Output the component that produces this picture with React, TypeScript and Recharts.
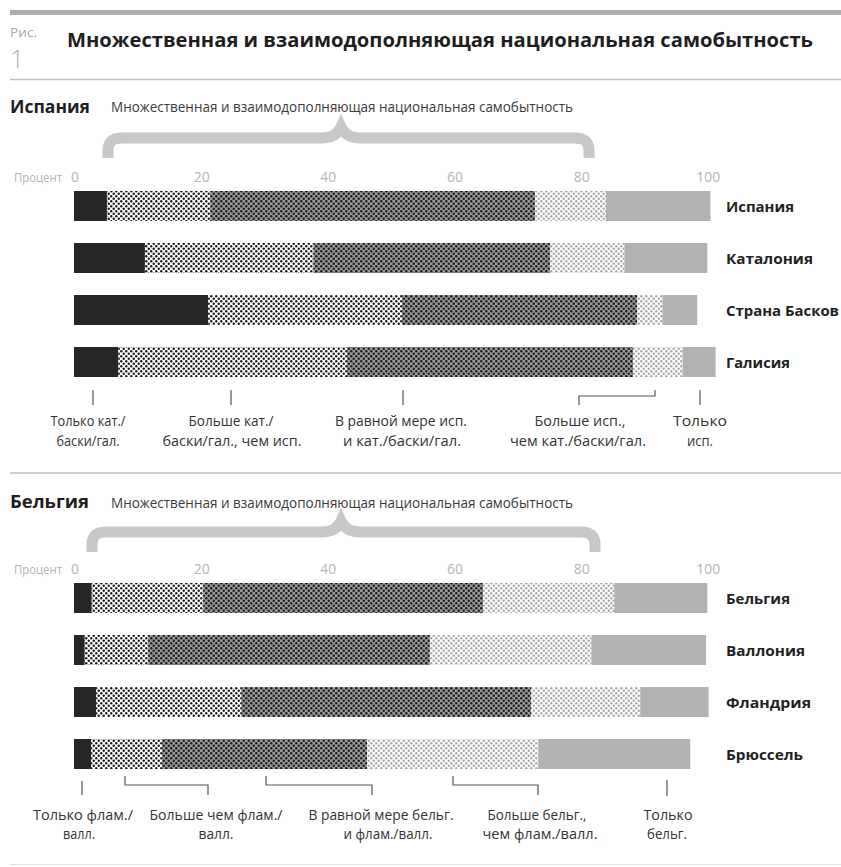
import React from 'react';
import { BarChart, Bar, XAxis, YAxis } from 'recharts';

// ---- Data (percent shares) ----
const spainRegions = ['Испания', 'Каталония', 'Страна Басков', 'Галисия'];
const spainOnlyRegional = [5.2, 11.2, 21.2, 7.0];
const spainMoreRegional = [16.3, 26.6, 30.6, 36.1];
const spainEqual = [51.3, 37.4, 37.1, 45.2];
const spainMoreNational = [11.2, 11.7, 4.0, 7.8];
const spainOnlyNational = [16.5, 13.1, 5.5, 5.2];

const belgiumRegions = ['Бельгия', 'Валлония', 'Фландрия', 'Брюссель'];
const belgiumOnlyRegional = [2.8, 1.7, 3.5, 2.7];
const belgiumMoreRegional = [17.6, 10.0, 22.9, 11.2];
const belgiumEqual = [44.2, 44.5, 45.8, 32.4];
const belgiumMoreNational = [20.7, 25.5, 17.2, 27.0];
const belgiumOnlyNational = [14.7, 18.1, 10.8, 24.0];

const xTicks = [0, 20, 40, 60, 80, 100];

const titleText = 'Множественная и взаимодополняющая национальная самобытность';
const subtitleText = 'Множественная и взаимодополняющая национальная самобытность';

function buildRows(names: string[], a: number[], b: number[], c: number[], d: number[], e: number[]) {
  return names.map((name, i) => ({
    name,
    onlyRegional: a[i],
    moreRegional: b[i],
    equal: c[i],
    moreNational: d[i],
    onlyNational: e[i],
  }));
}

const spainData = buildRows(spainRegions, spainOnlyRegional, spainMoreRegional, spainEqual, spainMoreNational, spainOnlyNational);
const belgiumData = buildRows(belgiumRegions, belgiumOnlyRegional, belgiumMoreRegional, belgiumEqual, belgiumMoreNational, belgiumOnlyNational);

const segments = [
  { key: 'onlyRegional', fill: '#262626' },
  { key: 'moreRegional', fill: 'url(#dotsWhite)' },
  { key: 'equal', fill: 'url(#dotsGray)' },
  { key: 'moreNational', fill: 'url(#dotsLight)' },
  { key: 'onlyNational', fill: '#b2b2b2' },
];

// label widths (styling only)
const labelWidths: Record<string, number> = {
  'Испания': 68,
  'Каталония': 87,
  'Страна Басков': 113,
  'Галисия': 64,
  'Бельгия': 64,
  'Валлония': 79,
  'Фландрия': 85,
  'Брюссель': 77,
};

const FONT = "'Open Sans', 'Noto Sans', sans-serif";

const XTick = (props: any) => {
  const { x, payload } = props;
  const v = payload.value;
  return (
    <g>
      <text x={x + 1} y={32} textAnchor="middle" fontSize={14} fill="#b5b5b5" fontFamily={FONT}>
        {v}
      </text>
      {v === 0 && (
        <text x={x - 12} y={32} textAnchor="end" fontSize={13} fill="#b5b5b5" fontFamily={FONT} textLength={48} lengthAdjust="spacingAndGlyphs">
          Процент
        </text>
      )}
    </g>
  );
};

const YTick = (props: any) => {
  const { y, payload } = props;
  const w = labelWidths[payload.value];
  return (
    <text x={726} y={y} dy={6} fontSize={15} fontWeight={700} fill="#222" fontFamily={FONT} textLength={w} lengthAdjust="spacingAndGlyphs">
      {payload.value}
    </text>
  );
};

function Section({ top, data }: { top: number; data: any[] }) {
  return (
    <div style={{ position: 'absolute', left: 0, top }}>
      <BarChart
        width={841}
        height={260}
        data={data}
        layout="vertical"
        margin={{ top: 10, right: 0, bottom: 22, left: 74 }}
        barSize={30}
        barCategoryGap={0}
      >
        <XAxis
          type="number"
          orientation="top"
          domain={[0, 102]}
          ticks={xTicks}
          height={20}
          axisLine={false}
          tickLine={false}
          tick={<XTick />}
          interval={0}
          allowDataOverflow
        />
        <YAxis
          type="category"
          dataKey="name"
          orientation="right"
          width={121}
          axisLine={false}
          tickLine={false}
          tick={<YTick />}
          interval={0}
        />
        {segments.map((s) => (
          <Bar key={s.key} dataKey={s.key} stackId="s" fill={s.fill} isAnimationActive={false} />
        ))}
      </BarChart>
    </div>
  );
}

const Label = ({ x, y, w, children }: { x: number; y: number; w: number; children: string }) => (
  <text x={x} y={y} textAnchor="middle" fontSize={15} fill="#333" fontFamily={FONT} textLength={w} lengthAdjust="spacingAndGlyphs">
    {children}
  </text>
);

export default function App() {
  const stroke = '#555';
  return (
    <div style={{ position: 'absolute', left: 0, top: 0, width: 841, height: 867, background: '#fff', overflow: 'hidden' }}>
      <svg width={0} height={0} style={{ position: 'absolute' }}>
        <defs>
          <pattern id="dotsWhite" patternUnits="userSpaceOnUse" width={5} height={5}>
            <rect width={5} height={5} fill="#ffffff" />
            <circle cx={1.25} cy={1.25} r={1.2} fill="#1a1a1a" />
            <circle cx={3.75} cy={3.75} r={1.2} fill="#1a1a1a" />
          </pattern>
          <pattern id="dotsGray" patternUnits="userSpaceOnUse" width={5} height={5}>
            <rect width={5} height={5} fill="#9a9a9a" />
            <circle cx={1.25} cy={1.25} r={1.25} fill="#1e1e1e" />
            <circle cx={3.75} cy={3.75} r={1.25} fill="#1e1e1e" />
          </pattern>
          <pattern id="dotsLight" patternUnits="userSpaceOnUse" width={5} height={5}>
            <rect width={5} height={5} fill="#ffffff" />
            <circle cx={1.25} cy={1.25} r={1.2} fill="#a8a8a8" />
            <circle cx={3.75} cy={3.75} r={1.2} fill="#a8a8a8" />
          </pattern>
        </defs>
      </svg>

      <Section top={150} data={spainData} />
      <Section top={542} data={belgiumData} />

      <svg width={841} height={867} style={{ position: 'absolute', left: 0, top: 0, pointerEvents: 'none' }}>
        {/* Header */}
        <rect x={10} y={10} width={831} height={5} fill="#adadad" />
        <text x={10} y={37} fontSize={13} fill="#a8a8a8" fontFamily={FONT} textLength={27} lengthAdjust="spacingAndGlyphs">Рис.</text>
        <text x={10} y={68} fontSize={25} fill="#b0b0b0" fontFamily={FONT} fontWeight={300}>1</text>
        <text x={67} y={47} fontSize={20} fontWeight={700} fill="#1e1e1e" fontFamily={FONT} textLength={746} lengthAdjust="spacingAndGlyphs">{titleText}</text>
        <line x1={10} x2={841} y1={79.5} y2={79.5} stroke="#c0c0c0" strokeWidth={1.5} />

        {/* Spain header */}
        <text x={10} y={113} fontSize={18} fontWeight={700} fill="#1e1e1e" fontFamily={FONT} textLength={80} lengthAdjust="spacingAndGlyphs">Испания</text>
        <text x={111} y={112} fontSize={14.5} fill="#3a3a3a" fontFamily={FONT} textLength={462} lengthAdjust="spacingAndGlyphs">{subtitleText}</text>
        <path d="M108,158 L108,150 Q108,138 122,138 L322,138 Q336,138 341,127 Q346,138 360,138 L575,138 Q589,138 589,150 L589,158" fill="none" stroke="#c8c8c8" strokeWidth={11} />

        {/* Spain annotations */}
        <g stroke={stroke} strokeWidth={1.2} fill="none">
          <line x1={93} x2={93} y1={390} y2={405} />
          <line x1={231} x2={231} y1={390} y2={405} />
          <line x1={403} x2={403} y1={390} y2={405} />
          <polyline points="579,405 579,396 655,396 655,390" />
          <line x1={700} x2={700} y1={390} y2={405} />
        </g>
        <Label x={88} y={426} w={75}>Только кат./</Label>
        <Label x={88} y={446} w={63}>баски/гал.</Label>
        <Label x={231} y={426} w={85}>Больше кат./</Label>
        <Label x={232} y={446} w={139}>баски/гал., чем исп.</Label>
        <Label x={401} y={426} w={132}>В равной мере исп.</Label>
        <Label x={402} y={446} w={118}>и  кат./баски/гал.</Label>
        <Label x={580} y={426} w={91}>Больше исп.,</Label>
        <Label x={578} y={446} w={136}>чем кат./баски/гал.</Label>
        <Label x={700} y={426} w={54}>Только</Label>
        <Label x={700} y={446} w={26}>исп.</Label>

        <line x1={10} x2={841} y1={473} y2={473} stroke="#c0c0c0" strokeWidth={1.5} />

        {/* Belgium header */}
        <text x={10} y={508} fontSize={18} fontWeight={700} fill="#1e1e1e" fontFamily={FONT} textLength={79} lengthAdjust="spacingAndGlyphs">Бельгия</text>
        <text x={111} y={508} fontSize={14.5} fill="#3a3a3a" fontFamily={FONT} textLength={462} lengthAdjust="spacingAndGlyphs">{subtitleText}</text>
        <path d="M92,552 L92,544 Q92,532 106,532 L322,532 Q336,532 341,521 Q346,532 360,532 L581,532 Q595,532 595,544 L595,552" fill="none" stroke="#c8c8c8" strokeWidth={11} />

        {/* Belgium annotations */}
        <g stroke={stroke} strokeWidth={1.2} fill="none">
          <line x1={82} x2={82} y1={781} y2={795} />
          <polyline points="125,776 125,785 208,785 208,795" />
          <polyline points="266,776 266,785 372,785 372,795" />
          <polyline points="453,776 453,785 538,785 538,795" />
          <line x1={667} x2={667} y1={780} y2={796} />
        </g>
        <Label x={83} y={820} w={100}>Только флам./</Label>
        <Label x={79} y={839} w={32}>валл.</Label>
        <Label x={216} y={820} w={133}>Больше чем флам./</Label>
        <Label x={216} y={839} w={35}>валл.</Label>
        <Label x={381} y={820} w={145}>В равной мере бельг.</Label>
        <Label x={388} y={839} w={89}>и флам./валл.</Label>
        <Label x={537} y={820} w={99}>Больше бельг.,</Label>
        <Label x={540} y={839} w={115}>чем флам./валл.</Label>
        <Label x={668} y={820} w={49}>Только</Label>
        <Label x={667} y={839} w={40}>бельг.</Label>

        <line x1={10} x2={841} y1={864.5} y2={864.5} stroke="#e2e2e2" strokeWidth={1} />
      </svg>
    </div>
  );
}
